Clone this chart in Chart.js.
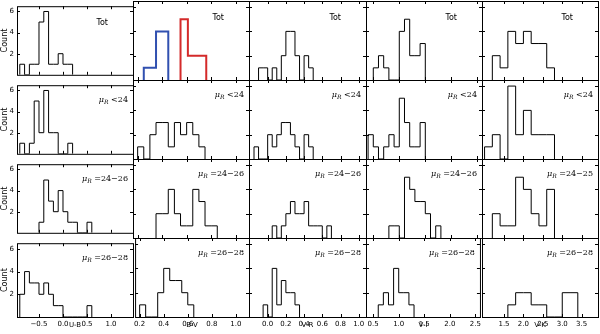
<!DOCTYPE html>
<html>
<head>
<meta charset="utf-8">
<script src="https://cdn.jsdelivr.net/npm/chart.js@4"></script>
<style>
  html, body { margin: 0; padding: 0; background: #fff; overflow: hidden; }
  body { width: 600px; height: 334px; position: relative; }
  canvas { position: absolute; }
</style>
</head>
<body>
<script>
// colours on the x axes, one column each
const colorNames = ['U-B', 'B-V', 'V-R', 'V-I', 'V-K'];
const binWidth = [0.1, 0.05, 0.05, 0.1, 0.2];
const xRange = [[-0.958, 1.458], [0.162, 1.109], [-0.205, 1.08], [0.36, 2.59], [0.934, 3.92]];
const xTicks = [
  [-0.5, 0.0, 0.5, 1.0],
  [0.2, 0.4, 0.6, 0.8, 1.0],
  [0.0, 0.2, 0.4, 0.6, 0.8, 1.0],
  [0.5, 1.0, 1.5, 2.0, 2.5],
  [1.5, 2.0, 2.5, 3.0, 3.5]
];
const yTicks = [2, 4, 6];

// panel captions, rows: Tot, mu_R<24, 24-26, 26-28
const panelLabels = [
  ['Tot', 'Tot', 'Tot', 'Tot', 'Tot'],
  [' <24', ' <24', ' <24', ' <24', ' <24'],
  [' =24\u221226', ' =24\u221226', ' =24\u221226', ' =24\u221226', ' =24\u221225'],
  [' =26\u221228', ' =26\u221228', ' =26\u221228', ' =26\u221228', ' =26\u221228']
];

// first bin edge and counts per row (Tot, <24, 24-26, 26-28)
const ubStart = [-0.9, -0.9, -0.5, -0.9];
const ubCounts = [
  [1, 0, 1, 1, 5, 6, 1, 1, 2, 1, 1],
  [1, 0, 1, 5, 2, 6, 2, 2, 0, 0, 1],
  [1, 5, 3, 2, 4, 2, 1, 1, 0, 0, 1],
  [2, 4, 3, 3, 2, 3, 2, 1, 1, 0, 0, 0, 0, 0, 1]
];
const bvStart = [null, 0.2, 0.35, 0.2];
const bvCounts = [
  null,
  [1, 0, 2, 3, 3, 1, 3, 2, 3, 2, 1],
  [2, 2, 4, 2, 1, 1, 4, 3, 1, 1],
  [1, 0, 0, 2, 4, 3, 3, 2, 1]
];
// B-V total split into blue and red groups
const bvBlueEdges = [0.25, 0.35, 0.45];
const bvBlueCounts = [1, 4];
const bvRedEdges = [0.55, 0.61, 0.76];
const bvRedCounts = [5, 2];

const vrStart = [-0.1, -0.15, 0.05, -0.05];
const vrCounts = [
  [1, 1, 0, 1, 0, 2, 4, 4, 2, 0, 2, 1],
  [1, 0, 0, 2, 1, 2, 3, 3, 2, 1, 0, 2, 1],
  [1, 0, 1, 2, 3, 2, 2, 3, 1, 1, 1, 0, 1],
  [1, 0, 4, 1, 3, 2, 2, 1]
];
const viStart = [0.5, 0.4, 0.8, 0.6];
const viCounts = [
  [1, 2, 1, 0, 0, 4, 5, 2, 2, 3],
  [2, 1, 0, 1, 2, 1, 5, 3, 1, 1, 3],
  [1, 1, 0, 5, 4, 3, 3, 2, 0, 1],
  [1, 2, 1, 4, 2, 2, 1]
];
const vkStart = [1.2, 1.0, 1.2, 1.6];
const vkCounts = [
  [2, 1, 4, 3, 4, 3, 3, 1],
  [1, 2, 0, 6, 2, 4, 2, 2, 2],
  [2, 1, 1, 5, 4, 2, 1, 4],
  [1, 2, 2, 1, 1, 0, 0, 2, 2]
];

const starts = [ubStart, bvStart, vrStart, viStart, vkStart];
const counts = [ubCounts, bvCounts, vrCounts, viCounts, vkCounts];

// panel grid in page pixels
const colEdges = [17, 133, 249, 366, 482, 598];
const rowEdges = [1, 80, 159, 238, 317];
const yMax = 6.5;
const FONT = 'DejaVu Sans';

function edgesFrom(start, w, n) {
  return Array.from({ length: n + 1 }, (_, i) => +(start + i * w).toFixed(4));
}

function stepPoints(edges, c) {
  const pts = [{ x: edges[0], y: 0 }];
  c.forEach((v, i) => pts.push({ x: edges[i], y: v }));
  pts.push({ x: edges[c.length], y: c[c.length - 1] });
  pts.push({ x: edges[c.length], y: 0 });
  return pts;
}

function histSet(points, color, width) {
  return {
    data: points, borderColor: color, borderWidth: width,
    stepped: 'before', pointRadius: 0, fill: false, tension: 0
  };
}

function fmt(v) {
  return v.toFixed(1).replace('-', '\u2212');
}

const panelPlugin = {
  id: 'panel',
  afterDatasetsDraw(chart) {
    const { r, c } = chart.options.plugins.panel;
    const ctx = chart.ctx;
    const a = chart.chartArea;
    const xs = chart.scales.x, ys = chart.scales.y;
    ctx.save();
    ctx.strokeStyle = '#000';
    ctx.lineWidth = 1;
    ctx.strokeRect(a.left + 0.5, a.top + 0.5, a.right - a.left, a.bottom - a.top);
    ctx.beginPath();
    xTicks[c].forEach(v => {
      const px = Math.round(xs.getPixelForValue(v)) + 0.5;
      ctx.moveTo(px, a.top); ctx.lineTo(px, a.top + 3);
      ctx.moveTo(px, a.bottom); ctx.lineTo(px, a.bottom - 3);
    });
    yTicks.forEach(v => {
      const py = Math.round(ys.getPixelForValue(v)) + 0.5;
      ctx.moveTo(a.left, py); ctx.lineTo(a.left + 3, py);
      ctx.moveTo(a.right, py); ctx.lineTo(a.right - 3, py);
    });
    ctx.stroke();

    // caption in the upper right corner
    ctx.fillStyle = '#000';
    ctx.textBaseline = 'alphabetic';
    const label = panelLabels[r][c];
    if (r === 0) {
      ctx.font = `8px "${FONT}"`;
      ctx.textAlign = 'right';
      ctx.fillText(label, a.right - 25, a.top + 19);
    } else {
      ctx.textAlign = 'left';
      const big = `italic 8px "DejaVu Serif"`;
      const small = `italic 6px "DejaVu Serif"`;
      const rest = `8px "DejaVu Serif"`;
      ctx.font = big; const w1 = ctx.measureText('\u03bc').width;
      ctx.font = small; const w2 = ctx.measureText('R').width;
      ctx.font = rest; const w3 = ctx.measureText(label).width;
      let x0 = a.right - 5 - (w1 + w2 + w3);
      const yb = a.top + 17;
      ctx.font = big; ctx.fillText('\u03bc', x0, yb); x0 += w1;
      ctx.font = small; ctx.fillText('R', x0, yb + 2); x0 += w2;
      ctx.font = rest; ctx.fillText(label, x0, yb);
    }

    // axis name sits on the tick label line
    if (r === 3) {
      ctx.font = `7px "${FONT}"`;
      ctx.textAlign = 'center';
      ctx.textBaseline = 'middle';
      ctx.fillText(colorNames[c], (a.left + a.right) / 2, a.bottom + 8.5);
    }
    ctx.restore();
  }
};

for (let r = 0; r < 4; r++) {
  for (let c = 0; c < 5; c++) {
    let datasets;
    if (r === 0 && c === 1) {
      datasets = [
        histSet(stepPoints(bvBlueEdges, bvBlueCounts), '#3150b0', 2),
        histSet(stepPoints(bvRedEdges, bvRedCounts), '#d42a2a', 2)
      ];
    } else {
      const cnt = counts[c][r];
      const e = edgesFrom(starts[c][r], binWidth[c], cnt.length);
      datasets = [histSet(stepPoints(e, cnt), '#000', 1)];
    }

    const padL = c === 0 ? 0 : 2;
    const yAxisW = c === 0 ? 17 : 0;
    const padB = r === 3 ? 0 : 2;
    const xAxisH = r === 3 ? 17 : 0;
    const areaW = colEdges[c + 1] - colEdges[c];
    const areaH = rowEdges[r + 1] - rowEdges[r];
    const cv = document.createElement('canvas');
    const W = padL + yAxisW + areaW + 2;
    const H = 2 + areaH + xAxisH + padB;
    cv.width = W; cv.height = H;
    cv.style.width = W + 'px'; cv.style.height = H + 'px';
    cv.style.left = (colEdges[c] - yAxisW - padL) + 'px';
    cv.style.top = (rowEdges[r] - 2) + 'px';
    document.body.appendChild(cv);

    new Chart(cv, {
      type: 'line',
      data: { datasets },
      options: {
        responsive: false,
        animation: false,
        devicePixelRatio: 1,
        layout: { padding: { left: padL, right: 2, top: 2, bottom: padB } },
        plugins: { legend: { display: false }, tooltip: { enabled: false }, panel: { r, c } },
        scales: {
          x: {
            type: 'linear', min: xRange[c][0], max: xRange[c][1],
            display: r === 3,
            grid: { display: false, drawTicks: false },
            border: { display: false },
            afterBuildTicks: s => { s.ticks = xTicks[c].map(v => ({ value: v })); },
            afterFit: s => { s.height = xAxisH; },
            ticks: { color: '#000', padding: 3, maxRotation: 0, autoSkip: false,
                     font: { family: FONT, size: 7 }, callback: v => fmt(v) }
          },
          y: {
            min: 0, max: yMax,
            display: c === 0,
            grid: { display: false, drawTicks: false },
            border: { display: false },
            afterBuildTicks: s => { s.ticks = yTicks.map(v => ({ value: v })); },
            afterFit: s => { s.width = yAxisW; },
            ticks: { color: '#000', padding: 3, font: { family: FONT, size: 7 },
                     callback: v => String(v) },
            title: { display: true, text: 'Count', color: '#000', padding: 0,
                     font: { family: FONT, size: 8 } }
          }
        }
      },
      plugins: [panelPlugin]
    });
  }
}
</script>
</body>
</html>
